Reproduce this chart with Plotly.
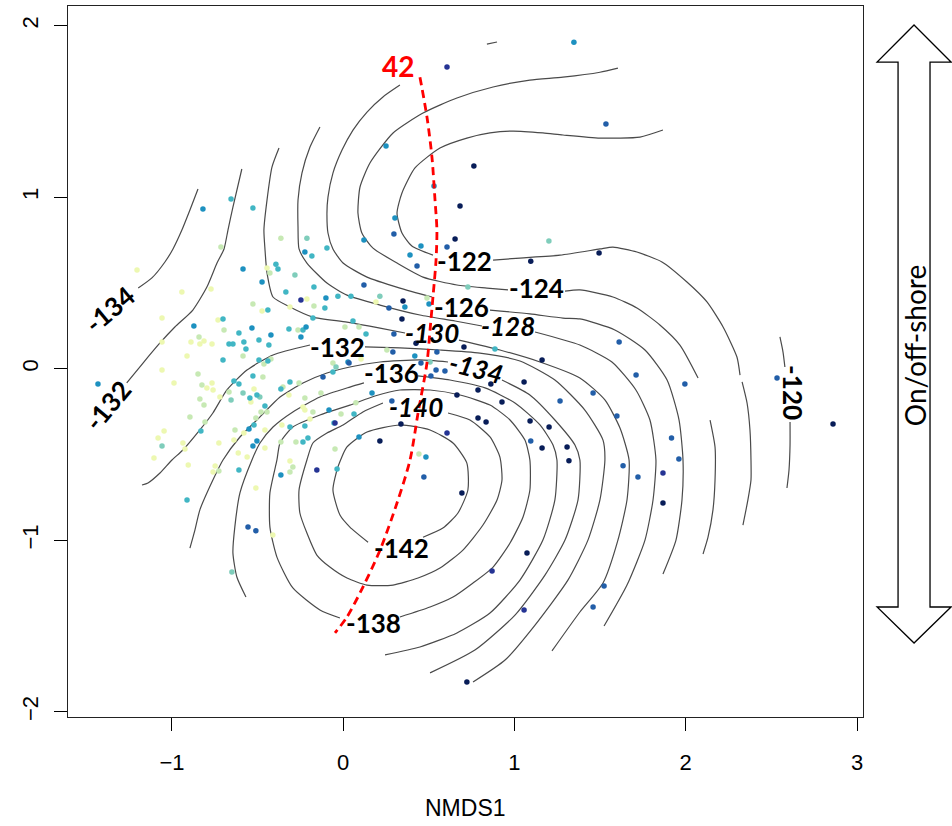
import plotly.graph_objects as go

# ---- NMDS site scores, grouped by colour class (1 = inshore ... 8 = offshore)
tone_1 = [(-1.204, 0.575), (-0.942, 0.447), (-0.772, 0.464), (-1.058, 0.295), (-0.731, 0.284),
          (-1.058, 0.156), (-0.912, 0.074), (-0.813, 0.161), (-0.837, 0.144), (-0.766, 0.144),
          (-0.889, 0.156), (-1.058, -0.008), (-0.988, -0.083), (-0.796, -0.112), (-0.766, -0.083),
          (-0.760, -0.124), (-0.720, -0.165), (-1.046, -0.363), (-1.081, -0.404), (-1.105, -0.520),
          (-0.936, -0.433), (-0.924, -0.468), (-0.726, -0.433), (-0.905, -0.561), (-0.748, -0.567),
          (-0.760, -0.602), (-0.311, -0.538), (-0.510, -0.695), (-0.411, -0.969), (-0.445, 0.587),
          (-0.474, 0.336), (-0.212, 0.406), (-0.311, 0.360), (-0.521, -0.118), (-0.539, -0.194),
          (-0.457, -0.357), (-0.580, -0.375), (-0.638, -0.416), (-0.457, -0.462), (-0.613, -0.491),
          (-0.561, -0.514), (-0.317, -0.153), (-0.235, -0.223), (-0.224, -0.240), (-0.194, -0.293),
          (-0.358, -0.328), (0.191, 0.389), (0.104, 0.057)]
tone_2 = [(-0.364, 0.761), (-0.714, 0.709), (-0.696, 0.226), (-0.842, 0.185), (-0.848, -0.031),
          (-0.825, -0.095), (-0.837, -0.177), (-0.813, -0.212), (-0.895, -0.281), (-0.807, -0.311),
          (-0.726, -0.596), (-0.585, 0.074), (-0.667, -0.136), (-0.463, 0.027), (-0.422, 0.057),
          (-0.469, -0.048), (-0.480, -0.252), (-0.445, -0.252), (-0.510, -0.287), (-0.632, -0.357),
          (-0.428, 0.558), (-0.527, 0.377), (-0.264, 0.226), (-0.171, 0.365), (-0.060, 0.033),
          (-0.130, -0.141), (-0.352, -0.106), (-0.258, -0.083), (-0.224, -0.171), (-0.177, -0.252),
          (-0.013, -0.264), (-0.276, -0.427), (-0.364, -0.427), (-0.294, -0.573), (-0.311, -0.602),
          (-0.048, -0.468), (0.010, 0.243), (0.092, 0.243), (0.255, 0.109), (0.074, -0.199),
          (0.442, -0.497), (0.489, 0.412)]
tone_3 = [(-0.212, 0.761), (-1.058, -0.450), (-0.650, -1.185), (-0.655, -0.182), (-0.585, -0.141),
          (-0.487, -0.165), (-0.282, 0.546), (-0.042, 0.010), (0.214, 0.423), (0.507, 0.039),
          (0.728, 0.476), (1.201, 0.744)]
tone_4 = [(-0.655, 0.989), (-0.527, 0.936), (-0.095, 0.703), (-0.702, 0.290), (-0.609, 0.208),
          (-0.667, 0.144), (-0.644, 0.144), (-0.580, 0.156), (-0.568, 0.115), (-0.492, 0.167),
          (-0.434, 0.138), (-0.702, 0.051), (-0.638, -0.071), (-0.609, -0.089), (-0.527, -0.042),
          (-0.492, 0.051), (-0.440, 0.045), (-0.545, -0.171), (-0.504, -0.153), (-0.457, -0.217),
          (-0.521, -0.328), (-0.831, -0.363), (-0.609, -0.590), (-0.912, -0.765), (-0.393, 0.609),
          (-0.381, 0.581), (-0.335, 0.447), (-0.440, 0.342), (-0.317, 0.231), (-0.235, 0.226),
          (-0.177, 0.295), (-0.107, 0.354), (-0.171, 0.476), (-0.183, 0.657), (-0.031, 0.423),
          (0.045, 0.423), (0.057, 0.278), (0.133, 0.202), (-0.060, -0.019), (-0.311, -0.077),
          (-0.364, -0.118), (-0.311, -0.340), (-0.224, -0.334), (-0.206, -0.404), (-0.235, -0.427),
          (0.063, -0.264), (-0.054, -0.316), (-0.036, -0.584), (0.886, 0.115)]
tone_5 = [(-0.819, 0.931), (1.347, 1.903), (0.250, 1.298), (0.530, 1.065), (0.302, 0.878),
          (0.121, 0.750), (0.454, 0.715), (0.390, 0.663), (-1.432, -0.089), (-0.872, 0.249),
          (-0.585, 0.581), (-0.422, 0.196), (-0.533, 0.237), (-0.550, -0.351), (-0.504, -0.421),
          (-0.527, -0.450), (-0.364, -0.620), (-0.474, 0.505), (-0.224, 0.680), (-0.217, 0.243),
          (-0.247, 0.185), (-0.101, 0.412), (-0.083, -0.240), (0.360, 0.360), (0.501, 0.377),
          (0.028, 0.039), (0.418, 0.074), (0.168, -0.141), (0.092, -0.398), (0.483, -0.514)]
tone_6 = [(0.296, 0.785), (0.606, 0.709), (0.431, 0.599), (1.534, 1.426), (0.121, 0.488),
          (0.267, 0.354), (0.296, 0.202), (0.547, 0.097), (0.290, 0.097), (0.454, 0.033),
          (0.542, -0.008), (0.594, -0.013), (0.512, -0.042), (0.284, -0.188), (1.266, -0.188),
          (1.459, -0.141), (1.095, -0.421), (0.471, -0.631), (1.611, 0.156), (1.710, -0.036),
          (1.995, -0.089), (1.598, -0.276), (1.917, -0.404), (1.960, -0.526), (1.634, -0.566),
          (1.721, -0.631), (2.533, -0.054), (1.523, -1.266), (1.459, -1.389), (-0.556, -0.922),
          (-0.510, -0.945), (0.034, 0.033), (-0.118, -0.048)]
tone_7 = [(0.606, 1.758), (-0.154, -0.590), (-0.247, 0.400), (0.606, -0.375), (1.867, -0.608),
          (0.869, -1.179), (1.056, -1.406), (-0.048, -0.316)]
tone_8 = [(0.763, 1.181), (0.682, 0.948), (0.653, 0.756), (1.095, 0.627), (1.494, 0.674),
          (0.349, 0.395), (0.343, 0.289), (0.425, 0.149), (0.705, 0.126), (1.161, 0.051),
          (0.862, -0.089), (0.787, -0.124), (0.664, -0.153), (1.056, -0.077), (0.927, -0.194),
          (0.787, -0.287), (0.834, -0.311), (1.091, -0.305), (0.337, -0.322), (1.202, -0.340),
          (0.214, -0.421), (1.161, -0.462), (1.307, -0.456), (1.318, -0.537), (0.693, -0.724),
          (1.867, -0.783), (2.860, -0.322), (1.073, -1.074), (0.722, -1.826)]

tone_colours = {1: "#edf8b1", 2: "#c7e9b4", 3: "#7fcdbb", 4: "#41b6c4",
                5: "#1d91c0", 6: "#225ea8", 7: "#253494", 8: "#081d58"}

# ---- fitted surface isolines, one list of segments per level
iso_m120 = [[(2.550, 0.185), (2.568, 0.097), (2.579, 0.010)],
            [(2.609, -0.311), (2.609, -0.445), (2.603, -0.590), (2.591, -0.695)]]
iso_m122 = [[(1.867, 1.391), (1.733, 1.350), (1.499, 1.344), (1.283, 1.362), (1.166, 1.374),
             (0.991, 1.385), (0.857, 1.374), (0.722, 1.344), (0.565, 1.286), (0.419, 1.170),
             (0.343, 1.024), (0.314, 0.907), (0.343, 0.791), (0.401, 0.715), (0.524, 0.662)],
            [(0.875, 0.633), (1.032, 0.645), (1.266, 0.662), (1.499, 0.698), (1.575, 0.709),
             (1.715, 0.680), (1.861, 0.622), (2.007, 0.505), (2.124, 0.389), (2.218, 0.243),
             (2.299, 0.068), (2.317, -0.037)],
            [(2.329, -0.077), (2.358, -0.200), (2.375, -0.357), (2.381, -0.532), (2.381, -0.649),
             (2.363, -0.765), (2.334, -0.911)]]
iso_m124 = [[(1.604, 1.752), (1.499, 1.728), (1.283, 1.699), (1.090, 1.682), (0.875, 1.642),
             (0.664, 1.578), (0.466, 1.490), (0.291, 1.374), (0.156, 1.199), (0.098, 1.059),
             (0.086, 0.907), (0.109, 0.791), (0.174, 0.703), (0.314, 0.616), (0.466, 0.534),
             (0.664, 0.488), (0.839, 0.470), (0.962, 0.459)],
            [(1.295, 0.452), (1.382, 0.459), (1.575, 0.418), (1.715, 0.354), (1.849, 0.255),
             (1.966, 0.138), (2.072, -0.054)],
            [(2.142, -0.299), (2.171, -0.456), (2.171, -0.649), (2.159, -0.823), (2.130, -0.982),
             (2.101, -1.080)]]
iso_m126 = [[(0.839, 1.892), (0.898, 1.904)],
            [(0.331, 1.653), (0.232, 1.584), (0.139, 1.496), (0.057, 1.391), (-0.007, 1.274),
             (-0.060, 1.140), (-0.089, 1.000), (-0.095, 0.907), (-0.089, 0.791), (-0.060, 0.698),
             (-0.001, 0.616), (0.139, 0.534), (0.331, 0.470), (0.518, 0.418)],
            [(0.857, 0.342), (1.090, 0.319), (1.283, 0.295), (1.382, 0.290), (1.586, 0.226),
             (1.762, 0.109), (1.891, -0.066), (1.961, -0.299), (1.984, -0.532), (1.978, -0.765),
             (1.943, -0.999), (1.867, -1.197)]]
iso_m128 = [[(-0.136, 1.409), (-0.194, 1.292), (-0.241, 1.140), (-0.264, 0.983), (-0.264, 0.826),
             (-0.258, 0.698), (-0.212, 0.616), (-0.095, 0.499), (0.022, 0.429), (0.215, 0.371),
             (0.448, 0.313), (0.653, 0.278), (0.810, 0.249)],
            [(1.120, 0.214), (1.382, 0.138), (1.569, 0.039), (1.709, -0.124), (1.791, -0.299),
             (1.826, -0.532), (1.809, -0.765), (1.762, -0.999), (1.657, -1.261), (1.523, -1.500)]]
iso_m130 = [[(-0.375, 1.286), (-0.416, 1.175), (-0.445, 0.983), (-0.463, 0.808), (-0.457, 0.698),
             (-0.445, 0.558), (-0.410, 0.418), (-0.311, 0.360), (-0.177, 0.301), (0.022, 0.272),
             (0.215, 0.237), (0.361, 0.208)],
            [(0.676, 0.167), (0.915, 0.109), (1.149, 0.039), (1.382, -0.054), (1.528, -0.182),
             (1.616, -0.346), (1.669, -0.532), (1.657, -0.765), (1.604, -0.999), (1.517, -1.249),
             (1.382, -1.418), (1.219, -1.645)]]
iso_m132 = [[(-1.175, -0.678), (-1.140, -0.666), (-1.070, -0.608), (-1.000, -0.532), (-0.936, -0.474),
             (-0.837, -0.357), (-0.761, -0.258), (-0.679, -0.124), (-0.562, -0.008), (-0.410, 0.080),
             (-0.194, 0.138)],
            [(0.127, 0.127), (0.331, 0.121), (0.565, 0.109), (0.798, 0.091), (1.032, 0.045),
             (1.236, -0.066), (1.411, -0.241), (1.517, -0.416), (1.528, -0.532), (1.499, -0.765),
             (1.429, -0.999), (1.312, -1.232), (1.120, -1.494), (0.945, -1.698), (0.758, -1.826)],
            [(-0.592, 1.164), (-0.644, 0.942), (-0.673, 0.808), (-0.696, 0.698), (-0.737, 0.616),
             (-0.796, 0.476), (-0.878, 0.342), (-0.983, 0.243), (-1.070, 0.150), (-1.169, 0.033),
             (-1.264, -0.083)]]
iso_m134 = [[(-0.895, -1.046), (-0.866, -0.941), (-0.837, -0.823), (-0.761, -0.649), (-0.702, -0.532),
             (-0.603, -0.398), (-0.486, -0.281), (-0.369, -0.165), (-0.235, -0.083), (-0.095, -0.025),
             (0.039, 0.010), (0.215, 0.039), (0.448, 0.051), (0.612, 0.039)],
            [(0.927, -0.066), (1.090, -0.153), (1.236, -0.299), (1.353, -0.445), (1.382, -0.532),
             (1.371, -0.765), (1.295, -0.999), (1.178, -1.203), (1.003, -1.436), (0.769, -1.640),
             (0.507, -1.773)],
            [(-0.848, 1.047), (-0.895, 0.925), (-0.942, 0.808), (-0.994, 0.698), (-1.041, 0.622),
             (-1.117, 0.529), (-1.197, 0.470)]]
iso_m136 = [[(-0.568, -1.331), (-0.621, -1.214), (-0.644, -1.075), (-0.633, -0.923), (-0.603, -0.724),
             (-0.533, -0.532), (-0.486, -0.433), (-0.410, -0.340), (-0.294, -0.252), (-0.136, -0.165),
             (0.039, -0.107), (0.121, -0.083)],
            [(0.437, -0.042), (0.623, -0.066), (0.828, -0.112), (1.003, -0.200), (1.149, -0.328),
             (1.225, -0.445), (1.248, -0.532), (1.236, -0.765), (1.166, -0.999), (1.032, -1.232),
             (0.857, -1.424), (0.664, -1.540), (0.448, -1.622), (0.244, -1.668)]]
iso_m138 = [[(0.331, -1.447), (0.507, -1.389), (0.641, -1.331), (0.758, -1.249), (0.875, -1.156),
             (0.974, -1.016), (1.050, -0.864), (1.090, -0.707), (1.090, -0.532), (1.061, -0.416),
             (0.974, -0.299), (0.857, -0.212), (0.682, -0.153), (0.507, -0.124), (0.331, -0.124),
             (0.185, -0.159), (0.039, -0.212), (-0.136, -0.270), (-0.294, -0.340), (-0.369, -0.433),
             (-0.387, -0.532), (-0.428, -0.724), (-0.428, -0.923), (-0.387, -1.098), (-0.294, -1.278),
             (-0.136, -1.406), (-0.019, -1.453)]]
iso_m140 = [[(0.612, -0.258), (0.740, -0.299), (0.857, -0.398), (0.915, -0.515), (0.927, -0.649),
             (0.898, -0.765), (0.816, -0.911), (0.699, -1.057), (0.565, -1.162), (0.437, -1.220),
             (0.291, -1.261), (0.139, -1.261), (0.022, -1.220), (-0.078, -1.156), (-0.154, -1.086),
             (-0.212, -0.958), (-0.253, -0.841), (-0.258, -0.707), (-0.212, -0.532), (-0.177, -0.433),
             (-0.095, -0.375), (-0.001, -0.328), (0.115, -0.252), (0.232, -0.200)]]
iso_m142 = [[(0.145, -1.011), (0.039, -0.923), (-0.019, -0.853), (-0.060, -0.707), (-0.031, -0.573),
             (0.022, -0.456), (0.139, -0.369), (0.331, -0.328), (0.507, -0.357), (0.641, -0.433),
             (0.722, -0.550), (0.728, -0.707), (0.670, -0.841), (0.582, -0.929), (0.466, -0.982)]]

isolines = [iso_m120, iso_m122, iso_m124, iso_m126, iso_m128, iso_m130, iso_m132,
            iso_m134, iso_m136, iso_m138, iso_m140, iso_m142]

# level labels: (text, x, y, angle, italic)
level_labels = [("-122", 0.711, 0.628, 0, False), ("-124", 1.126, 0.470, 0, False),
                ("-126", 0.693, 0.360, 0, False), ("-128", 0.962, 0.249, 0, True),
                ("-130", 0.518, 0.208, 0, True), ("-132", -0.036, 0.127, 0, False),
                ("-134", 0.775, 0.004, 14, True), ("-136", 0.279, -0.025, 0, False),
                ("-140", 0.425, -0.223, 0, True), ("-142", 0.343, -1.046, 0, False),
                ("-138", 0.174, -1.482, 0, False), ("-120", 2.626, -0.142, 90, False),
                ("-134", -1.362, 0.348, -40, False), ("-132", -1.374, -0.212, -50, False)]

# fitted gradient for taxon 42
curve_x = [0.448, 0.489, 0.518, 0.536, 0.547, 0.542, 0.524, 0.507, 0.489, 0.437, 0.390,
           0.314, 0.215, 0.115, 0.022, -0.048]
curve_y = [1.699, 1.467, 1.234, 0.983, 0.808, 0.633, 0.418, 0.226, 0.033, -0.258, -0.532,
           -0.783, -1.057, -1.273, -1.447, -1.540]
curve_label = ("42", 0.320, 1.764)

x_ticks = [-1, 0, 1, 2, 3]
y_ticks = [-2, -1, 0, 1, 2]

fig = go.Figure()

for level in isolines:
    for seg in level:
        fig.add_trace(go.Scatter(
            x=[p[0] for p in seg], y=[p[1] for p in seg], mode="lines",
            line=dict(color="#4a4a4a", width=1.2, shape="spline", smoothing=0.6),
            hoverinfo="skip"))

for tone, pts in zip(range(1, 9), [tone_1, tone_2, tone_3, tone_4, tone_5, tone_6, tone_7, tone_8]):
    fig.add_trace(go.Scatter(
        x=[p[0] for p in pts], y=[p[1] for p in pts], mode="markers",
        marker=dict(size=5.5, color=tone_colours[tone], line=dict(width=0))))

fig.add_trace(go.Scatter(
    x=curve_x, y=curve_y, mode="lines",
    line=dict(color="#ff0000", width=2.8, dash="8px,5px", shape="spline", smoothing=0.8)))

label_font = "Lato, 'Open Sans', sans-serif"
for text, lx, ly, ang, ital in level_labels:
    t = f"<b>{text}</b>"
    if ital:
        t = f"<i>{t}</i>"
    fig.add_annotation(x=lx, y=ly, xref="x", yref="y", text=t, showarrow=False,
                       textangle=ang, font=dict(family=label_font, size=26, color="black"))

fig.add_annotation(x=curve_label[1], y=curve_label[2], xref="x", yref="y",
                   text=f"<b>{curve_label[0]}</b>", showarrow=False,
                   font=dict(family=label_font, size=28, color="#ff0000"))

# axis title
fig.add_annotation(x=0.5, y=-0.128, xref="paper", yref="paper", text="NMDS1",
                   showarrow=False, yanchor="middle", xanchor="center",
                   font=dict(family="Liberation Sans, Arial", size=23, color="black"))

# on/off-shore double arrow in the right margin
cx, hw, sw = 1.0642, 0.0465, 0.0201
y_tip_top, y_base_top, y_base_bot, y_tip_bot = 0.9733, 0.9212, 0.1547, 0.1041
arrow_path = (f"M {cx},{y_tip_top} L {cx + hw},{y_base_top} L {cx + sw},{y_base_top} "
              f"L {cx + sw},{y_base_bot} L {cx + hw},{y_base_bot} L {cx},{y_tip_bot} "
              f"L {cx - hw},{y_base_bot} L {cx - sw},{y_base_bot} L {cx - sw},{y_base_top} "
              f"L {cx - hw},{y_base_top} Z")
fig.add_shape(type="path", path=arrow_path, xref="paper", yref="paper",
              line=dict(color="black", width=1.3), fillcolor="white")
fig.add_annotation(x=1.0654, y=0.523, xref="paper", yref="paper", text="On/off-shore",
                   showarrow=False, textangle=-90, xanchor="center", yanchor="middle",
                   font=dict(family=label_font, size=28, color="black"))

axis_common = dict(showgrid=False, zeroline=False, showline=True, linecolor="#222",
                   linewidth=1.3, mirror=True, ticks="outside", ticklen=13, tickwidth=1,
                   tickcolor="black",
                   tickfont=dict(family="Liberation Sans, Arial", size=22, color="black"))

fig.update_layout(
    width=952, height=826, margin=dict(l=68, r=89, t=6, b=109),
    paper_bgcolor="white", plot_bgcolor="white", showlegend=False,
    xaxis=dict(range=[-1.607, 3.035], tickvals=x_ticks, ticklabelstandoff=12,
               ticktext=[str(v).replace("-", "\u2212") for v in x_ticks], **axis_common),
    yaxis=dict(range=[-2.03, 2.114], tickvals=y_ticks, tickangle=-90, ticklabelstandoff=7,
               ticktext=[str(v).replace("-", "\u2212") for v in y_ticks], **axis_common),
)

fig.write_html("out.html")
